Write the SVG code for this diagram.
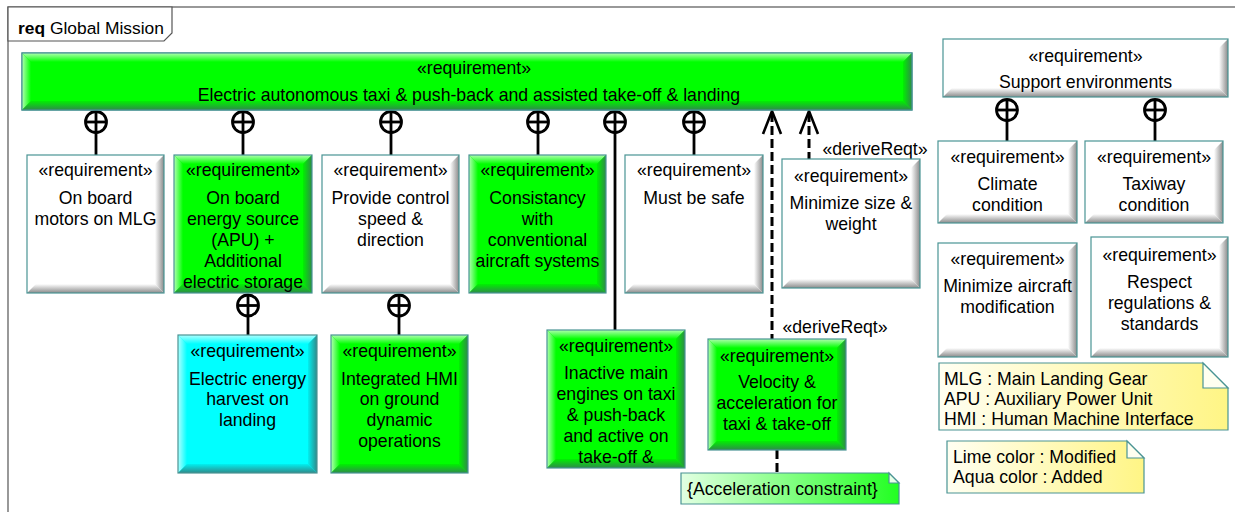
<svg xmlns="http://www.w3.org/2000/svg" width="1235" height="512" viewBox="0 0 1235 512">
<defs>
<style>
.t{font-family:"Liberation Sans",Arial,sans-serif;font-size:17.7px;fill:#000;text-anchor:middle}
.tl{font-family:"Liberation Sans",Arial,sans-serif;font-size:17.7px;fill:#000}
.box{stroke:#4a9494;stroke-width:1.2}
.w{fill:#fff}
.g{fill:#00ff00}
.a{fill:#00ffff}
.wr{fill:url(#wR)}.wb{fill:url(#wB)}
.gr{fill:url(#gR)}.gb{fill:url(#gB)}.gl{fill:url(#gL)}.gt{fill:url(#gT)}
.ar{fill:url(#aR)}.ab{fill:url(#aB)}.al{fill:url(#aL)}.at{fill:url(#aT)}
.comp{fill:none;stroke:#000;stroke-width:2.8}
.dep{fill:none;stroke:#000;stroke-width:3;stroke-dasharray:9 4}
.arr{fill:none;stroke:#000;stroke-width:2.6}
.note{stroke:#4a9494;stroke-width:1.2}
</style>
<linearGradient id="wR" x1="0" y1="0" x2="1" y2="0"><stop offset="0" stop-color="#ffffff"/><stop offset="1" stop-color="#8a8a8a"/></linearGradient>
<linearGradient id="wB" x1="0" y1="0" x2="0" y2="1"><stop offset="0" stop-color="#ffffff"/><stop offset="1" stop-color="#8a8a8a"/></linearGradient>
<linearGradient id="gR" x1="0" y1="0" x2="1" y2="0"><stop offset="0" stop-color="#00f000"/><stop offset="1" stop-color="#2f8a4a"/></linearGradient>
<linearGradient id="gB" x1="0" y1="0" x2="0" y2="1"><stop offset="0" stop-color="#00f000"/><stop offset="1" stop-color="#2f8a4a"/></linearGradient>
<linearGradient id="gL" x1="0" y1="0" x2="1" y2="0"><stop offset="0" stop-color="#b0ffb0"/><stop offset="1" stop-color="#00ff00"/></linearGradient>
<linearGradient id="gT" x1="0" y1="0" x2="0" y2="1"><stop offset="0" stop-color="#b0ffb0"/><stop offset="1" stop-color="#00ff00"/></linearGradient>
<linearGradient id="aR" x1="0" y1="0" x2="1" y2="0"><stop offset="0" stop-color="#00f0f0"/><stop offset="1" stop-color="#2f8a8a"/></linearGradient>
<linearGradient id="aB" x1="0" y1="0" x2="0" y2="1"><stop offset="0" stop-color="#00f0f0"/><stop offset="1" stop-color="#2f8a8a"/></linearGradient>
<linearGradient id="aL" x1="0" y1="0" x2="1" y2="0"><stop offset="0" stop-color="#b0ffff"/><stop offset="1" stop-color="#00ffff"/></linearGradient>
<linearGradient id="aT" x1="0" y1="0" x2="0" y2="1"><stop offset="0" stop-color="#b0ffff"/><stop offset="1" stop-color="#00ffff"/></linearGradient>
<linearGradient id="yN" x1="0" y1="0" x2="1" y2="0"><stop offset="0" stop-color="#fffff2"/><stop offset="1" stop-color="#fff585"/></linearGradient>
<linearGradient id="lN" x1="0" y1="0" x2="1" y2="0"><stop offset="0" stop-color="#e2ffe2"/><stop offset="1" stop-color="#22ff22"/></linearGradient>
</defs>
<rect width="1235" height="512" fill="#fff"/>
<g id="frame">
<rect x="8" y="7" width="1240" height="520" fill="none" stroke="#555" stroke-width="1.2"/>
<polygon points="8,7 172,7 172,33 164,41 8,41" fill="#fff" stroke="#555" stroke-width="1.2"/>
<text x="18" y="34" class="tl" style="font-size:17.4px"><tspan font-weight="bold">req</tspan> Global Mission</text>
</g>

<g id="connectors">
<g class="comp">
<line x1="96" y1="111.5" x2="96" y2="155"/><circle cx="96" cy="122" r="10.5"/><line x1="85.5" y1="122" x2="106.5" y2="122"/>
<line x1="243" y1="111.5" x2="243" y2="155"/><circle cx="243" cy="122" r="10.5"/><line x1="232.5" y1="122" x2="253.5" y2="122"/>
<line x1="391" y1="111.5" x2="391" y2="155"/><circle cx="391" cy="122" r="10.5"/><line x1="380.5" y1="122" x2="401.5" y2="122"/>
<line x1="538" y1="111.5" x2="538" y2="155"/><circle cx="538" cy="122" r="10.5"/><line x1="527.5" y1="122" x2="548.5" y2="122"/>
<line x1="615" y1="111.5" x2="615" y2="330"/><circle cx="615" cy="122" r="10.5"/><line x1="604.5" y1="122" x2="625.5" y2="122"/>
<line x1="694" y1="111.5" x2="694" y2="155"/><circle cx="694" cy="122" r="10.5"/><line x1="683.5" y1="122" x2="704.5" y2="122"/>
<line x1="248" y1="295" x2="248" y2="335"/><circle cx="248" cy="305.5" r="10.5"/><line x1="237.5" y1="305.5" x2="258.5" y2="305.5"/>
<line x1="399" y1="295" x2="399" y2="335"/><circle cx="399" cy="305.5" r="10.5"/><line x1="388.5" y1="305.5" x2="409.5" y2="305.5"/>
<line x1="1007" y1="99.5" x2="1007" y2="141"/><circle cx="1007" cy="110" r="10.5"/><line x1="996.5" y1="110" x2="1017.5" y2="110"/>
<line x1="1155" y1="99.5" x2="1155" y2="141"/><circle cx="1155" cy="110" r="10.5"/><line x1="1144.5" y1="110" x2="1165.5" y2="110"/>
</g>
<line class="dep" x1="772" y1="113" x2="772" y2="339"/>
<polyline class="arr" points="763,134 772,111 781,134"/>
<line class="dep" x1="809" y1="113" x2="809" y2="159"/>
<polyline class="arr" points="800,134 809,111 818,134"/>
<line class="dep" x1="777" y1="450" x2="777" y2="473"/>
<text x="875" y="155" class="t">«deriveReqt»</text>
<text x="835" y="333" class="t">«deriveReqt»</text>
</g>

<g id="main">
<rect x="22" y="53" width="890" height="57" class="box g"/>
<polygon class="gt" points="22,53 912,53 903,62 31,62"/>
<polygon class="gl" points="22,53 31,62 31,101 22,110"/>
<polygon class="gr" points="903,62 912,53 912,110 903,101"/>
<polygon class="gb" points="22,110 31,101 903,101 912,110"/>
<rect x="22" y="53" width="890" height="57" class="box" fill="none"/>
<text x="474" y="74" class="t">«requirement»</text>
<text x="469" y="101" class="t">Electric autonomous taxi &amp; push-back and assisted take-off &amp; landing</text>
</g>

<g id="onboard-motors">
<rect x="27" y="155" width="137" height="138" class="w"/>
<polygon class="wr" points="155,164 164,155 164,293 155,284"/>
<polygon class="wb" points="27,293 36,284 155,284 164,293"/>
<rect x="27" y="155" width="137" height="138" class="box" fill="none"/>
<text x="95.5" y="176" class="t">«requirement»</text>
<text x="95.5" y="204" class="t">On board</text>
<text x="95.5" y="225" class="t">motors on MLG</text>
</g>

<g id="energy-source">
<rect x="174" y="155" width="138" height="138" class="g"/>
<polygon class="gt" points="174,155 312,155 303,164 183,164"/>
<polygon class="gl" points="174,155 183,164 183,284 174,293"/>
<polygon class="gr" points="303,164 312,155 312,293 303,284"/>
<polygon class="gb" points="174,293 183,284 303,284 312,293"/>
<rect x="174" y="155" width="138" height="138" class="box" fill="none"/>
<text x="243" y="176" class="t">«requirement»</text>
<text x="243" y="204" class="t">On board</text>
<text x="243" y="225" class="t">energy source</text>
<text x="243" y="246" class="t">(APU) +</text>
<text x="243" y="267" class="t">Additional</text>
<text x="243" y="288" class="t">electric storage</text>
</g>

<g id="control-speed">
<rect x="322" y="155" width="137" height="138" class="w"/>
<polygon class="wr" points="450,164 459,155 459,293 450,284"/>
<polygon class="wb" points="322,293 331,284 450,284 459,293"/>
<rect x="322" y="155" width="137" height="138" class="box" fill="none"/>
<text x="390.5" y="176" class="t">«requirement»</text>
<text x="390.5" y="204" class="t">Provide control</text>
<text x="390.5" y="225" class="t">speed &amp;</text>
<text x="390.5" y="246" class="t">direction</text>
</g>

<g id="consistancy">
<rect x="469" y="155" width="137" height="138" class="g"/>
<polygon class="gt" points="469,155 606,155 597,164 478,164"/>
<polygon class="gl" points="469,155 478,164 478,284 469,293"/>
<polygon class="gr" points="597,164 606,155 606,293 597,284"/>
<polygon class="gb" points="469,293 478,284 597,284 606,293"/>
<rect x="469" y="155" width="137" height="138" class="box" fill="none"/>
<text x="537.5" y="176" class="t">«requirement»</text>
<text x="537.5" y="204" class="t">Consistancy</text>
<text x="537.5" y="225" class="t">with</text>
<text x="537.5" y="246" class="t">conventional</text>
<text x="537.5" y="267" class="t">aircraft systems</text>
</g>

<g id="must-be-safe">
<rect x="625" y="155" width="138" height="138" class="w"/>
<polygon class="wr" points="754,164 763,155 763,293 754,284"/>
<polygon class="wb" points="625,293 634,284 754,284 763,293"/>
<rect x="625" y="155" width="138" height="138" class="box" fill="none"/>
<text x="694" y="176" class="t">«requirement»</text>
<text x="694" y="204" class="t">Must be safe</text>
</g>

<g id="minimize-size">
<rect x="782" y="159" width="138" height="129" class="w"/>
<polygon class="wr" points="911,168 920,159 920,288 911,279"/>
<polygon class="wb" points="782,288 791,279 911,279 920,288"/>
<rect x="782" y="159" width="138" height="129" class="box" fill="none"/>
<text x="851" y="182" class="t">«requirement»</text>
<text x="851" y="209" class="t">Minimize size &amp;</text>
<text x="851" y="230" class="t">weight</text>
</g>

<g id="support-env">
<rect x="943" y="39" width="285" height="58" class="w"/>
<polygon class="wr" points="1219,48 1228,39 1228,97 1219,88"/>
<polygon class="wb" points="943,97 952,88 1219,88 1228,97"/>
<rect x="943" y="39" width="285" height="58" class="box" fill="none"/>
<text x="1085.5" y="62" class="t">«requirement»</text>
<text x="1085.5" y="88" class="t">Support environments</text>
</g>

<g id="climate">
<rect x="938" y="141" width="139" height="82" class="w"/>
<polygon class="wr" points="1068,150 1077,141 1077,223 1068,214"/>
<polygon class="wb" points="938,223 947,214 1068,214 1077,223"/>
<rect x="938" y="141" width="139" height="82" class="box" fill="none"/>
<text x="1007.5" y="163" class="t">«requirement»</text>
<text x="1007.5" y="190" class="t">Climate</text>
<text x="1007.5" y="211" class="t">condition</text>
</g>

<g id="taxiway">
<rect x="1085" y="141" width="138" height="82" class="w"/>
<polygon class="wr" points="1214,150 1223,141 1223,223 1214,214"/>
<polygon class="wb" points="1085,223 1094,214 1214,214 1223,223"/>
<rect x="1085" y="141" width="138" height="82" class="box" fill="none"/>
<text x="1154" y="163" class="t">«requirement»</text>
<text x="1154" y="190" class="t">Taxiway</text>
<text x="1154" y="211" class="t">condition</text>
</g>

<g id="min-aircraft-mod">
<rect x="938" y="243" width="139" height="114" class="w"/>
<polygon class="wr" points="1068,252 1077,243 1077,357 1068,348"/>
<polygon class="wb" points="938,357 947,348 1068,348 1077,357"/>
<rect x="938" y="243" width="139" height="114" class="box" fill="none"/>
<text x="1007.5" y="265" class="t">«requirement»</text>
<text x="1007.5" y="292" class="t">Minimize aircraft</text>
<text x="1007.5" y="313" class="t">modification</text>
</g>

<g id="respect-regulations">
<rect x="1091" y="237" width="137" height="120" class="w"/>
<polygon class="wr" points="1219,246 1228,237 1228,357 1219,348"/>
<polygon class="wb" points="1091,357 1100,348 1219,348 1228,357"/>
<rect x="1091" y="237" width="137" height="120" class="box" fill="none"/>
<text x="1159.5" y="261" class="t">«requirement»</text>
<text x="1159.5" y="288" class="t">Respect</text>
<text x="1159.5" y="309" class="t">regulations &amp;</text>
<text x="1159.5" y="330" class="t">standards</text>
</g>

<g id="energy-harvest">
<rect x="178" y="335" width="139" height="138" class="a"/>
<polygon class="at" points="178,335 317,335 308,344 187,344"/>
<polygon class="al" points="178,335 187,344 187,464 178,473"/>
<polygon class="ar" points="308,344 317,335 317,473 308,464"/>
<polygon class="ab" points="178,473 187,464 308,464 317,473"/>
<rect x="178" y="335" width="139" height="138" class="box" fill="none"/>
<text x="247.5" y="357" class="t">«requirement»</text>
<text x="247.5" y="385" class="t">Electric energy</text>
<text x="247.5" y="405" class="t">harvest on</text>
<text x="247.5" y="426" class="t">landing</text>
</g>

<g id="integrated-hmi">
<rect x="331" y="335" width="137" height="138" class="g"/>
<polygon class="gt" points="331,335 468,335 459,344 340,344"/>
<polygon class="gl" points="331,335 340,344 340,464 331,473"/>
<polygon class="gr" points="459,344 468,335 468,473 459,464"/>
<polygon class="gb" points="331,473 340,464 459,464 468,473"/>
<rect x="331" y="335" width="137" height="138" class="box" fill="none"/>
<text x="399.5" y="357" class="t">«requirement»</text>
<text x="399.5" y="385" class="t">Integrated HMI</text>
<text x="399.5" y="405" class="t">on ground</text>
<text x="399.5" y="426" class="t">dynamic</text>
<text x="399.5" y="447" class="t">operations</text>
</g>

<g id="inactive-engines">
<rect x="547" y="330" width="138" height="138" class="g"/>
<polygon class="gt" points="547,330 685,330 676,339 556,339"/>
<polygon class="gl" points="547,330 556,339 556,459 547,468"/>
<polygon class="gr" points="676,339 685,330 685,468 676,459"/>
<polygon class="gb" points="547,468 556,459 676,459 685,468"/>
<rect x="547" y="330" width="138" height="138" class="box" fill="none"/>
<text x="616" y="352" class="t">«requirement»</text>
<text x="616" y="379" class="t">Inactive main</text>
<text x="616" y="400" class="t">engines on taxi</text>
<text x="616" y="421" class="t">&amp; push-back</text>
<text x="616" y="442" class="t">and active on</text>
<text x="616" y="463" class="t">take-off &amp;</text>
</g>

<g id="velocity">
<rect x="708" y="339" width="138" height="111" class="g"/>
<polygon class="gt" points="708,339 846,339 837,348 717,348"/>
<polygon class="gl" points="708,339 717,348 717,441 708,450"/>
<polygon class="gr" points="837,348 846,339 846,450 837,441"/>
<polygon class="gb" points="708,450 717,441 837,441 846,450"/>
<rect x="708" y="339" width="138" height="111" class="box" fill="none"/>
<text x="777" y="362" class="t">«requirement»</text>
<text x="777" y="388" class="t">Velocity &amp;</text>
<text x="777" y="409" class="t">acceleration for</text>
<text x="777" y="430" class="t">taxi &amp; take-off</text>
</g>

<g id="accel-constraint">
<polygon class="note" fill="url(#lN)" points="681,473 889,473 899,483 899,504 681,504"/>
<polygon class="note" fill="#e8ffe8" points="889,473 889,483 899,483"/>
<text x="687" y="495" class="tl">{Acceleration constraint}</text>
</g>

<g id="abbrev-note">
<polygon class="note" fill="url(#yN)" points="939,363 1203,363 1228,388 1228,430 939,430"/>
<polygon class="note" fill="#fffff0" points="1203,363 1203,388 1228,388"/>
<text x="944" y="385" class="tl">MLG : Main Landing Gear</text>
<text x="944" y="405" class="tl">APU : Auxiliary Power Unit</text>
<text x="944" y="425" class="tl">HMI : Human Machine Interface</text>
</g>

<g id="color-note">
<polygon class="note" fill="url(#yN)" points="947,441 1127,441 1144,458 1144,493 947,493"/>
<polygon class="note" fill="#fffff0" points="1127,441 1127,458 1144,458"/>
<text x="953" y="463" class="tl">Lime color : Modified</text>
<text x="953" y="483" class="tl">Aqua color : Added</text>
</g>
</svg>
